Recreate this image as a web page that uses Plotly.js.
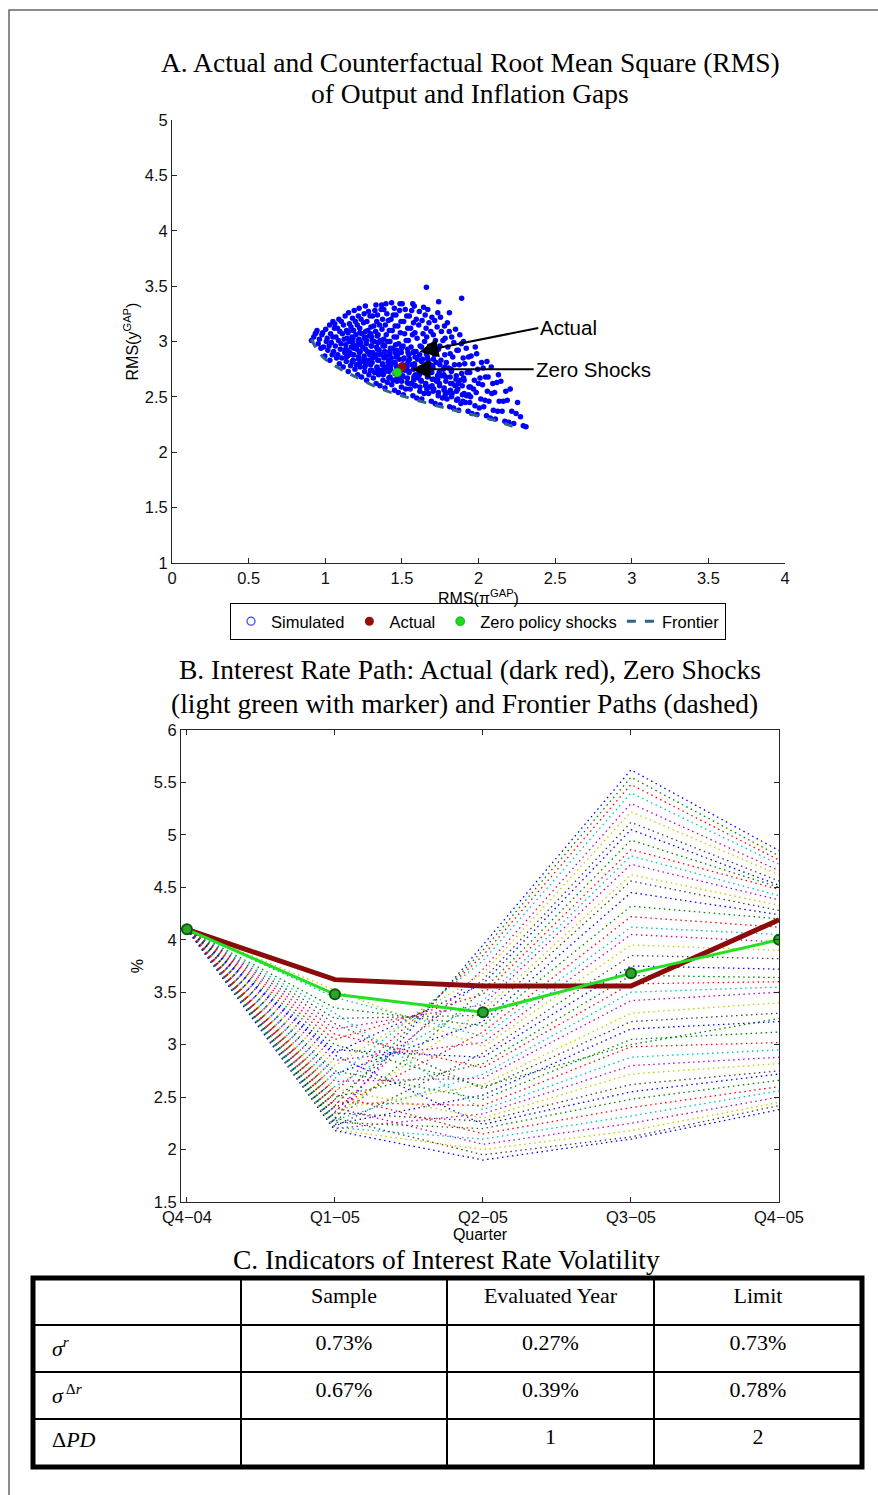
<!DOCTYPE html>
<html><head><meta charset="utf-8">
<script src="https://cdn.plot.ly/plotly-3.0.1.min.js"></script>
<style>html,body{margin:0;padding:0;background:#fff}#chart{width:878px;height:1495px}</style>
</head><body><div id="chart"></div>
<script>
// ---------- Panel A data: RMS of inflation gap (x) and output gap (y) ----------
const simPi = [
0.910,0.925,0.935,
0.972,0.954,0.962,0.978,0.946,
0.997,1.017,0.988,1.007,1.013,0.983,1.003,
1.030,1.045,1.055,1.025,1.040,1.050,1.035,1.060,1.028,
1.092,1.074,1.082,1.098,1.066,1.086,1.070,1.095,1.080,1.062,1.089,
1.117,1.137,1.108,1.127,1.133,1.103,1.123,1.112,1.139,1.119,1.105,1.130,
1.150,1.165,1.175,1.145,1.160,1.170,1.155,1.180,1.148,1.168,1.158,1.178,1.152,
1.212,1.194,1.202,1.218,1.186,1.206,1.190,1.215,1.200,1.182,1.209,1.197,1.216,1.189,
1.237,1.257,1.228,1.247,1.253,1.223,1.243,1.232,1.259,1.239,1.225,1.250,1.234,1.254,1.221,
1.270,1.285,1.295,1.265,1.280,1.290,1.275,1.300,1.268,1.288,1.278,1.298,1.272,1.292,1.282,1.262,
1.332,1.314,1.322,1.338,1.306,1.326,1.310,1.335,1.320,1.302,1.329,1.317,1.336,1.309,1.324,1.331,
1.357,1.377,1.348,1.367,1.373,1.343,1.363,1.352,1.379,1.359,1.345,1.370,1.354,1.374,1.341,1.365,1.368,
1.390,1.405,1.415,1.385,1.400,1.410,1.395,1.420,1.388,1.408,1.398,1.418,1.392,1.412,1.402,1.382,1.396,
1.452,1.434,1.442,1.458,1.426,1.446,1.430,1.455,1.440,1.422,1.449,1.437,1.456,1.429,1.444,1.451,1.433,
1.477,1.497,1.468,1.487,1.493,1.463,1.483,1.472,1.499,1.479,1.465,1.490,1.474,1.494,1.461,1.485,1.488,
1.510,1.525,1.535,1.505,1.520,1.530,1.515,1.540,1.508,1.528,1.518,1.538,1.512,1.532,1.522,1.502,
1.572,1.554,1.562,1.578,1.546,1.566,1.550,1.575,1.560,1.542,1.569,1.557,1.576,1.549,1.564,1.571,
1.597,1.617,1.588,1.607,1.613,1.583,1.603,1.592,1.619,1.599,1.585,1.610,1.594,1.614,1.581,
1.630,1.645,1.655,1.625,1.640,1.650,1.635,1.660,1.628,1.648,1.638,1.658,1.632,1.652,1.642,
1.692,1.674,1.682,1.698,1.666,1.686,1.670,1.695,1.680,1.662,1.689,1.677,1.696,1.669,
1.717,1.737,1.708,1.727,1.733,1.703,1.723,1.712,1.739,1.719,1.705,1.730,1.714,1.734,
1.750,1.765,1.775,1.745,1.760,1.770,1.755,1.780,1.748,1.768,1.758,1.778,1.752,
1.812,1.794,1.802,1.818,1.786,1.806,1.790,1.815,1.800,1.782,1.809,1.797,
1.837,1.857,1.828,1.847,1.853,1.823,1.843,1.832,1.859,1.839,1.825,1.850,
1.870,1.885,1.895,1.865,1.880,1.890,1.875,1.900,1.868,1.888,1.878,
1.932,1.914,1.922,1.938,1.906,1.926,1.910,1.935,1.920,1.902,
1.957,1.977,1.948,1.967,1.973,1.943,1.963,1.952,1.979,
1.990,2.005,2.015,1.985,2.000,2.010,1.995,2.020,1.988,
2.052,2.034,2.042,2.058,2.026,2.046,2.030,2.055,
2.077,2.097,2.068,2.087,2.093,2.063,2.083,
2.110,2.125,2.135,2.105,2.120,2.130,
2.172,2.154,2.162,2.178,2.146,
2.197,2.217,2.188,2.207,
2.230,2.245,2.255,
2.292,2.274,
1.660,1.890,1.810,0.940,2.310,1.740,1.050,
1.138,1.146,1.134,1.143,1.149,
1.183,1.176,1.187,1.179,1.174,1.185,
1.224,1.217,1.228,1.213,1.221,1.226,
1.258,1.266,1.254,1.262,1.268,1.256,1.263,
1.303,1.296,1.307,1.294,1.301,1.306,1.297,
1.344,1.337,1.348,1.335,1.341,1.346,1.339,
1.378,1.386,1.374,1.383,1.388,1.376,1.381,
1.423,1.416,1.427,1.414,1.421,1.426,1.418,
1.464,1.457,1.468,1.455,1.461,1.466,1.459,
1.498,1.506,1.494,1.503,1.508,1.496,1.501,
1.543,1.536,1.547,1.534,1.541,1.546,1.538,
1.584,1.577,1.588,1.575,1.581,1.586,1.579,
1.618,1.626,1.614,1.623,1.628,1.616,
1.663,1.656,1.667,1.654,1.661,1.666,
1.704,1.697,1.708,1.695,1.701,1.706,
1.738,1.746,1.734,1.743,1.748,
1.783,1.776,1.787,1.774,1.781,
1.824,1.817,1.828,1.815,1.821,
1.864,1.857,1.868,1.855,
1.898,1.906,1.894,1.903,
1.943,1.936,1.947
];
const simY = [
3.01,3.04,3.07,
2.94,2.98,3.02,3.06,3.10,
2.87,2.92,2.95,3.00,3.03,3.08,3.11,
2.83,2.88,2.91,2.96,2.99,3.04,3.07,3.12,3.15,
2.80,2.85,2.88,2.93,2.96,3.01,3.04,3.09,3.12,3.16,3.20,
2.77,2.82,2.85,2.90,2.93,2.98,3.02,3.07,3.10,3.15,3.18,3.23,
2.73,2.78,2.82,2.87,2.90,2.95,3.00,3.03,3.08,3.13,3.16,3.21,3.26,
2.70,2.75,2.79,2.84,2.88,2.93,2.96,3.01,3.06,3.10,3.15,3.18,3.23,3.28,
2.68,2.73,2.77,2.82,2.85,2.90,2.95,2.99,3.04,3.07,3.12,3.17,3.20,3.25,3.30,
2.65,2.70,2.74,2.79,2.83,2.88,2.91,2.96,3.01,3.05,3.10,3.13,3.18,3.23,3.27,3.32,
2.62,2.67,2.72,2.76,2.81,2.86,2.90,2.95,3.00,3.04,3.09,3.14,3.18,3.23,3.28,3.33,
2.60,2.65,2.70,2.74,2.79,2.83,2.88,2.92,2.97,3.01,3.06,3.11,3.15,3.20,3.24,3.29,3.33,
2.58,2.63,2.67,2.72,2.77,2.81,2.87,2.91,2.96,3.00,3.06,3.10,3.15,3.19,3.25,3.29,3.34,
2.56,2.61,2.65,2.71,2.75,2.81,2.85,2.90,2.94,3.00,3.04,3.10,3.14,3.20,3.24,3.30,3.35,
2.54,2.59,2.64,2.68,2.74,2.78,2.84,2.88,2.94,2.98,3.04,3.08,3.14,3.18,3.24,3.28,3.34,
2.52,2.57,2.63,2.68,2.74,2.79,2.85,2.90,2.96,3.01,3.07,3.12,3.18,3.23,3.29,3.34,
2.51,2.57,2.62,2.68,2.73,2.79,2.84,2.90,2.95,3.01,3.06,3.12,3.17,3.23,3.28,3.34,
2.49,2.55,2.60,2.67,2.72,2.79,2.84,2.91,2.96,3.03,3.08,3.15,3.20,3.27,3.32,
2.48,2.53,2.60,2.65,2.72,2.77,2.84,2.89,2.95,3.00,3.07,3.12,3.19,3.24,3.31,
2.46,2.53,2.59,2.66,2.72,2.79,2.84,2.91,2.96,3.04,3.09,3.17,3.22,3.29,
2.44,2.51,2.57,2.64,2.69,2.76,2.81,2.88,2.93,3.01,3.06,3.13,3.19,3.26,
2.43,2.49,2.56,2.62,2.69,2.75,2.83,2.88,2.96,3.01,3.09,3.14,3.22,
2.41,2.48,2.54,2.62,2.68,2.76,2.81,2.89,2.95,3.03,3.09,3.17,
2.40,2.47,2.53,2.60,2.66,2.73,2.79,2.86,2.92,2.99,3.04,3.11,
2.38,2.44,2.52,2.57,2.65,2.71,2.79,2.85,2.92,2.98,3.06,
2.37,2.45,2.51,2.59,2.65,2.72,2.80,2.86,2.94,3.00,
2.35,2.42,2.50,2.57,2.65,2.72,2.80,2.87,2.95,
2.34,2.40,2.48,2.54,2.62,2.67,2.75,2.81,2.89,
2.33,2.41,2.47,2.55,2.61,2.68,2.76,2.82,
2.31,2.38,2.46,2.53,2.62,2.68,2.77,
2.30,2.37,2.46,2.54,2.63,2.70,
2.28,2.37,2.46,2.55,2.64,
2.27,2.37,2.47,2.57,
2.26,2.35,2.45,
2.24,2.32,
3.49,3.39,3.26,3.08,2.23,3.36,3.18,
2.86,2.92,2.97,3.03,3.09,
2.83,2.88,2.94,2.99,3.04,3.10,
2.80,2.86,2.91,2.97,3.02,3.08,
2.77,2.82,2.87,2.93,2.98,3.03,3.09,
2.74,2.79,2.85,2.90,2.96,3.01,3.07,
2.72,2.77,2.83,2.88,2.93,2.99,3.05,
2.70,2.75,2.80,2.85,2.91,2.96,3.02,
2.68,2.73,2.78,2.83,2.88,2.94,3.00,
2.66,2.71,2.76,2.81,2.86,2.92,2.97,
2.64,2.69,2.74,2.79,2.84,2.90,2.95,
2.62,2.67,2.72,2.77,2.82,2.88,2.93,
2.60,2.65,2.70,2.75,2.80,2.86,2.91,
2.59,2.64,2.70,2.76,2.82,2.88,
2.57,2.62,2.68,2.74,2.80,2.86,
2.55,2.60,2.66,2.72,2.78,2.84,
2.54,2.60,2.66,2.72,2.79,
2.52,2.58,2.64,2.70,2.77,
2.50,2.56,2.62,2.68,2.75,
2.48,2.55,2.62,2.69,
2.46,2.53,2.60,2.67,
2.45,2.52,2.59
];
const actualPi = [1.50], actualY = [2.77];
const zeroPi = [1.47], zeroY = [2.72];
const frontierPi = [0.91, 0.95, 1.00, 1.10, 1.20, 1.35, 1.50, 1.70, 1.90, 2.10, 2.25];
const frontierY  = [3.02, 2.92, 2.84, 2.75, 2.68, 2.58, 2.51, 2.43, 2.36, 2.29, 2.22];
const xTicksA = [0, 0.5, 1, 1.5, 2, 2.5, 3, 3.5, 4];

// ---------- Panel B data: interest rate paths (%) ----------
const quarters = ['Q4\u221204', 'Q1\u221205', 'Q2\u221205', 'Q3\u221205', 'Q4\u221205'];
const actualRate = [4.10, 3.62, 3.56, 3.56, 4.19];
const zeroShockRate = [4.10, 3.48, 3.31, 3.68, 4.00];
const pathStart = 4.10;
const pathQ1 = [2.30,2.42,2.55,2.68,2.36,2.80,2.48,2.92,2.26,3.05,2.60,3.15,2.33,3.25,2.72,3.35,2.40,3.45,2.85,3.52,2.22,2.95,2.50,3.10,2.28,2.65,2.38,3.20,2.24,2.75,2.45,3.30,2.20,2.58,2.35,2.90,2.26,2.52,2.21,2.40,2.19,2.30,2.18,3.00];
const pathQ2 = [3.95,3.90,3.85,3.80,3.72,3.68,3.62,3.58,3.52,3.48,3.42,3.38,3.33,3.28,3.22,3.18,3.12,3.08,3.02,2.98,2.92,2.88,2.82,2.78,2.72,2.68,2.62,2.58,2.52,2.48,2.42,2.38,2.34,2.30,2.27,2.24,2.20,2.15,2.10,2.05,2.00,1.95,1.90,2.60];
const pathQ3 = [5.62,5.55,5.48,5.40,5.30,5.22,5.12,5.05,4.95,4.86,4.80,4.72,4.62,4.56,4.45,4.32,4.22,4.12,4.05,3.95,3.85,3.75,3.66,3.58,3.50,3.42,3.30,3.22,3.15,3.05,2.98,2.88,2.80,2.72,2.62,2.55,2.48,2.40,2.32,2.25,2.18,2.12,2.10,3.00];
const pathQ4 = [4.85,4.80,4.76,4.72,4.66,4.62,4.56,4.52,4.50,4.48,4.42,4.38,4.33,4.28,4.24,4.20,4.12,4.05,3.98,3.90,3.82,3.72,3.64,3.60,3.55,3.50,3.40,3.30,3.22,3.12,3.02,2.95,2.88,2.82,2.75,2.72,2.66,2.60,2.56,2.50,2.45,2.42,2.38,3.25];

// ---------- Panel C data: table ----------
const tableHeader = ['', 'Sample', 'Evaluated Year', 'Limit'];
const rowLabels = ['<i>\u03c3</i><sup><i>r</i></sup>', '<i>\u03c3</i><sup> \u0394<i>r</i></sup>', '\u0394<i>PD</i>'];
const sampleCol = ['0.73%', '0.67%', ''];
const evaluatedCol = ['0.27%', '0.39%', '1'];
const limitCol = ['0.73%', '0.78%', '2'];

// ---------- styling helpers ----------
const W = 878, H = 1495;
const px = v => v / W, py = v => 1 - v / H;
const SANS = 'Liberation Sans, Arial, sans-serif';
const SERIF = 'Liberation Serif, Times New Roman, serif';
const pathColors = ['#0000ff', '#008000', '#ff0000', '#00bfbf', '#bf00bf', '#c8c800', '#404040'];
const NB = '\u00a0\u00a0';

const traces = [];
// Panel A
traces.push({type:'scatter', mode:'markers', x:simPi, y:simY, xaxis:'x', yaxis:'y',
  marker:{color:'#0000ff', size:5.5}, showlegend:false, hoverinfo:'skip'});
traces.push({type:'scatter', mode:'markers', x:[null], y:[null], xaxis:'x', yaxis:'y', name:'Simulated', legendrank:1,
  marker:{symbol:'circle-open', color:'#4040ff', size:8, line:{width:1.2}}});
traces.push({type:'scatter', mode:'lines', x:frontierPi, y:frontierY, xaxis:'x', yaxis:'y', name:'Frontier', legendrank:4,
  line:{color:'#2e6585', width:3, dash:'dash', shape:'spline'}});
traces.push({type:'scatter', mode:'markers', x:actualPi, y:actualY, xaxis:'x', yaxis:'y', name:'Actual', legendrank:2,
  marker:{color:'#9a0a0a', size:9}});
traces.push({type:'scatter', mode:'markers', x:zeroPi, y:zeroY, xaxis:'x', yaxis:'y', name:'Zero policy shocks', legendrank:3,
  marker:{color:'#18dd18', size:9, line:{color:'#0c8a0c', width:0.6}}});

// Panel B
for (let i = 0; i < pathQ1.length; i++) {
  traces.push({type:'scatter', mode:'lines', x:quarters, y:[pathStart, pathQ1[i], pathQ2[i], pathQ3[i], pathQ4[i]],
    xaxis:'x2', yaxis:'y2', showlegend:false, hoverinfo:'skip',
    line:{color:pathColors[i % pathColors.length], width:1.3, dash:'1.5px,3.5px'}});
}
traces.push({type:'scatter', mode:'lines', x:quarters, y:actualRate, xaxis:'x2', yaxis:'y2', showlegend:false,
  line:{color:'#8b0a0a', width:5}});
traces.push({type:'scatter', mode:'lines+markers', x:quarters, y:zeroShockRate, xaxis:'x2', yaxis:'y2', showlegend:false,
  line:{color:'#22e022', width:3}, marker:{color:'#2aa52a', size:10, line:{color:'#0b5a0b', width:2}}});

// Panel C
const tFont = {family:SERIF, size:22, color:'#000'};
traces.push({type:'table', domain:{x:[px(33), px(862)], y:[py(1467), py(1278)]},
  columnwidth:[208, 206, 207, 208],
  header:{values:tableHeader.map(v => [v]), align:['left','center','center','center'], height:47,
    font:tFont, line:{color:'#000', width:2}, fill:{color:'#fff'}},
  cells:{values:[rowLabels.map(v => NB + v), sampleCol, evaluatedCol, limitCol], align:['left','center','center','center'], height:47,
    font:tFont, line:{color:'#000', width:2}, fill:{color:'#fff'}}
});

const axisCommon = {showgrid:false, zeroline:false, showline:true, linecolor:'#262626', linewidth:1,
  ticks:'inside', ticklen:5, tickcolor:'#262626', tickfont:{family:SANS, size:16.5, color:'#111'}};
const titleFont = {family:SANS, size:16, color:'#000'};
const serifTitle = {family:SERIF, size:27.5, color:'#000'};

const layout = {
  width:W, height:H, autosize:false, margin:{l:0, r:0, t:0, b:0},
  paper_bgcolor:'#fff', plot_bgcolor:'#fff', showlegend:true,
  legend:{orientation:'h', x:px(478), xanchor:'center', y:py(603), yanchor:'top', bgcolor:'#fff',
    bordercolor:'#000', borderwidth:1, font:{family:SANS, size:16.5, color:'#000'}, itemclick:false, itemdoubleclick:false},
  xaxis:Object.assign({}, axisCommon, {domain:[px(172), px(785)], anchor:'y', range:[0, 4], tickvals:xTicksA,
    title:{text:'RMS(\u03c0<sup>GAP</sup>)', font:titleFont, standoff:0}}),
  yaxis:Object.assign({}, axisCommon, {domain:[py(563), py(120)], anchor:'x', range:[1, 5], dtick:0.5,
    title:{text:'RMS(y<sup>GAP</sup>)', font:titleFont, standoff:2}}),
  xaxis2:Object.assign({}, axisCommon, {domain:[px(181), px(779)], anchor:'y2', type:'category', range:[-0.04, 4],
    mirror:'ticks', title:{text:'Quarter', font:titleFont, standoff:0}}),
  yaxis2:Object.assign({}, axisCommon, {domain:[py(1202), py(730)], anchor:'x2', range:[1.5, 6], dtick:0.5,
    mirror:'ticks', title:{text:'%', font:titleFont, standoff:6}}),
  shapes:[
    {type:'rect', xref:'paper', yref:'paper', x0:px(9), x1:1.05, y0:-0.05, y1:py(10), line:{color:'#666', width:1.5}},
    {type:'rect', xref:'paper', yref:'paper', x0:px(33), x1:px(862), y0:py(1467), y1:py(1278), line:{color:'#000', width:5}}
  ],
  annotations:[
    {xref:'paper', yref:'paper', x:px(470), y:py(62), yanchor:'middle', text:'A. Actual and Counterfactual Root Mean Square (RMS)', showarrow:false, font:serifTitle},
    {xref:'paper', yref:'paper', x:px(470), y:py(93), yanchor:'middle', text:'of Output and Inflation Gaps', showarrow:false, font:serifTitle},
    {xref:'paper', yref:'paper', x:px(470), y:py(670), yanchor:'middle', text:'B. Interest Rate Path: Actual (dark red), Zero Shocks', showarrow:false, font:serifTitle},
    {xref:'paper', yref:'paper', x:px(464), y:py(703), yanchor:'middle', text:'(light green with marker) and Frontier Paths (dashed)', showarrow:false, font:serifTitle},
    {xref:'paper', yref:'paper', x:px(446), y:py(1259), yanchor:'middle', text:'C. Indicators of Interest Rate Volatility', showarrow:false, font:serifTitle},
    {xref:'x', yref:'y', axref:'x', ayref:'y', x:1.614, y:2.908, ax:2.39, ay:3.122, text:'Actual', xanchor:'left', yanchor:'middle',
      showarrow:true, arrowhead:2, arrowsize:1.9, arrowwidth:2, arrowcolor:'#000', font:{family:SANS, size:20.5, color:'#000'}},
    {xref:'x', yref:'y', axref:'x', ayref:'y', x:1.564, y:2.75, ax:2.36, ay:2.75, text:'Zero Shocks', xanchor:'left', yanchor:'middle',
      showarrow:true, arrowhead:2, arrowsize:1.9, arrowwidth:2, arrowcolor:'#000', font:{family:SANS, size:20.5, color:'#000'}}
  ]
};

Plotly.newPlot('chart', traces, layout, {displayModeBar:false, staticPlot:true});
</script></body></html>
